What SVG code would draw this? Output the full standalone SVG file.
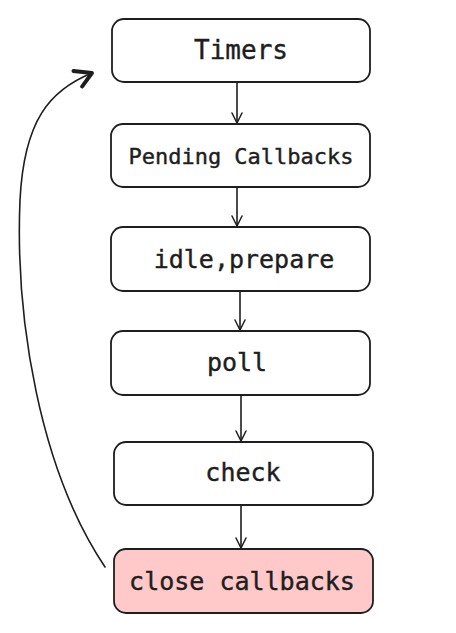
<svg xmlns="http://www.w3.org/2000/svg" width="456" height="633" viewBox="0 0 456 633">
<style>
.box{fill:#ffffff;stroke:#1e1e1e;stroke-width:1.8}
.hot{fill:#ffc9c9}
.lbl{font-family:"DejaVu Sans Mono","Liberation Mono",monospace;font-size:25px;fill:#1e1e1e;stroke:#1e1e1e;stroke-width:0.4;text-anchor:middle;dominant-baseline:central}
.edge{fill:none;stroke:#1e1e1e;stroke-width:1.6;stroke-linecap:round}
</style>
<defs>
<marker id="ah" viewBox="0 0 12 12" refX="11" refY="6" markerWidth="12" markerHeight="12" markerUnits="userSpaceOnUse" orient="auto">
<path d="M1,1 L11,6 L1,11" fill="none" stroke="#1e1e1e" stroke-width="1.5" stroke-linecap="round"/>
</marker>
<marker id="ahb" viewBox="0 0 20 20" refX="18" refY="10" markerWidth="22" markerHeight="22" markerUnits="userSpaceOnUse" orient="auto">
<path d="M3,2 L18,10 L5,18" fill="none" stroke="#1e1e1e" stroke-width="3.5" stroke-linecap="round" stroke-linejoin="round"/>
</marker>
</defs>
<g id="connectors">
<path class="edge" d="M237,83 L237,123" marker-end="url(#ah)"/>
<path class="edge" d="M237,188 L237,226" marker-end="url(#ah)"/>
<path class="edge" d="M240,292 L240,330" marker-end="url(#ah)"/>
<path class="edge" d="M241,396 L241,441" marker-end="url(#ah)"/>
<path class="edge" d="M241,506 L241,548" marker-end="url(#ah)"/>
<path class="edge" d="M105,567 C40,470 15,320 20,200 C24,120 50,90 92,73" marker-end="url(#ahb)"/>
</g>
<g id="timers">
<rect class="box" x="112" y="19" width="258" height="63" rx="12"/>
<text class="lbl" x="241" y="50" style="font-size:26px">Timers</text>
</g>
<g id="pending">
<rect class="box" x="111" y="124" width="259" height="63" rx="12"/>
<text class="lbl" x="241" y="156" style="font-size:22px">Pending Callbacks</text>
</g>
<g id="idle">
<rect class="box" x="111" y="227" width="259" height="64" rx="12"/>
<text class="lbl" x="244" y="259">idle,prepare</text>
</g>
<g id="poll">
<rect class="box" x="111" y="331" width="259" height="64" rx="12"/>
<text class="lbl" x="237" y="362">poll</text>
</g>
<g id="check">
<rect class="box" x="114" y="442" width="259" height="63" rx="12"/>
<text class="lbl" x="243" y="472">check</text>
</g>
<g id="close">
<rect class="box hot" x="114" y="549" width="259" height="64" rx="12"/>
<text class="lbl" x="242" y="581">close callbacks</text>
</g>
</svg>
